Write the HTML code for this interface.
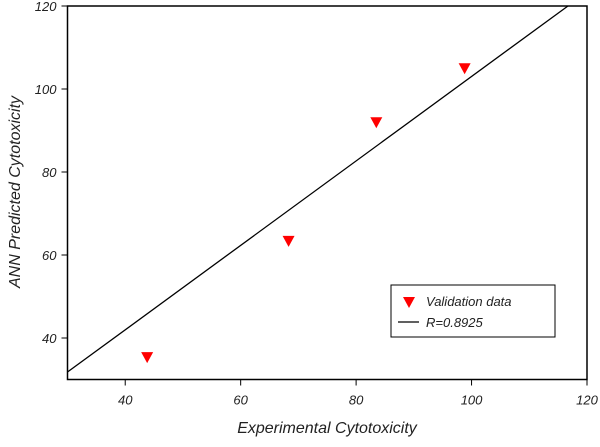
<!DOCTYPE html>
<html><head><meta charset="utf-8"><style>
body{margin:0;background:#fff;font-family:"Liberation Sans",Arial,sans-serif}
svg text{font-family:"Liberation Sans",Arial,sans-serif;font-style:italic}
</style></head><body>
<svg id="chart" width="600" height="442">
<g id="g"></g>
</svg>
<script>
const xTicks=[40,60,80,100,120];
const yTicks=[40,60,80,100,120];
const expX=[43.8,68.3,83.5,98.8];
const predY=[35.4,63.4,92,105];
const fitX=[30,116.7];
const fitY=[31.8,120];
const L=67.5,T=6,R=587,B=379.5;
const sx=v=>L+(v-30)*(R-L)/90;
const sy=v=>B-(v-30)*(B-T)/90;
const ns="http://www.w3.org/2000/svg";
const g=document.getElementById('g');
function mk(t,a,p){const e=document.createElementNS(ns,t);for(const k in a)e.setAttribute(k,a[k]);(p||g).appendChild(e);return e;}
const frame=mk('rect',{x:L,y:T,width:R-L,height:B-T,fill:'none',stroke:'#000','stroke-width':1.5});


xTicks.forEach(v=>{
 const t=mk('line',{x1:sx(v),x2:sx(v),y1:B,y2:B+6,stroke:'#000','stroke-width':1});
 
 
 const l=mk('text',{x:sx(v),y:B+25,'text-anchor':'middle','font-size':13,fill:'#222'});l.textContent=v;
 
 
});
yTicks.forEach(v=>{
 const t=mk('line',{x1:L-6,x2:L,y1:sy(v),y2:sy(v),stroke:'#000','stroke-width':1});
 
 
 const l=mk('text',{x:L-11,y:sy(v)+5,'text-anchor':'end','font-size':13,fill:'#222'});l.textContent=v;
 
 
});
const fl=mk('line',{x1:sx(fitX[0]),y1:sy(fitY[0]),x2:sx(fitX[1]),y2:sy(fitY[1]),stroke:'#000','stroke-width':1.3});


expX.forEach((x,i)=>{
 const px=sx(x),py=sy(predY[i]);
 const p=mk('polygon',{points:`${px-6},${py-5} ${px+6},${py-5} ${px},${py+6}`,fill:'#f00'});
 
 
});
</script>
<svg width="600" height="442" style="position:absolute;left:0;top:0">
<text x="327" y="433" text-anchor="middle" font-size="16" fill="#222">Experimental Cytotoxicity</text>
<text transform="translate(20,192) rotate(-90)" text-anchor="middle" font-size="16" fill="#222">ANN Predicted Cytotoxicity</text>
<g>
<rect x="391" y="285" width="164" height="52" fill="#fff" stroke="#000" stroke-width="1"/>
<polygon points="403,297 415,297 409,308" fill="#f00"/>
<text x="426" y="306" font-size="13" fill="#222">Validation data</text>
<line x1="398" y1="322" x2="419" y2="322" stroke="#000" stroke-width="1.2"/>
<text x="426" y="327" font-size="13" fill="#222">R=0.8925</text>
</g>
</svg>
</body></html>
